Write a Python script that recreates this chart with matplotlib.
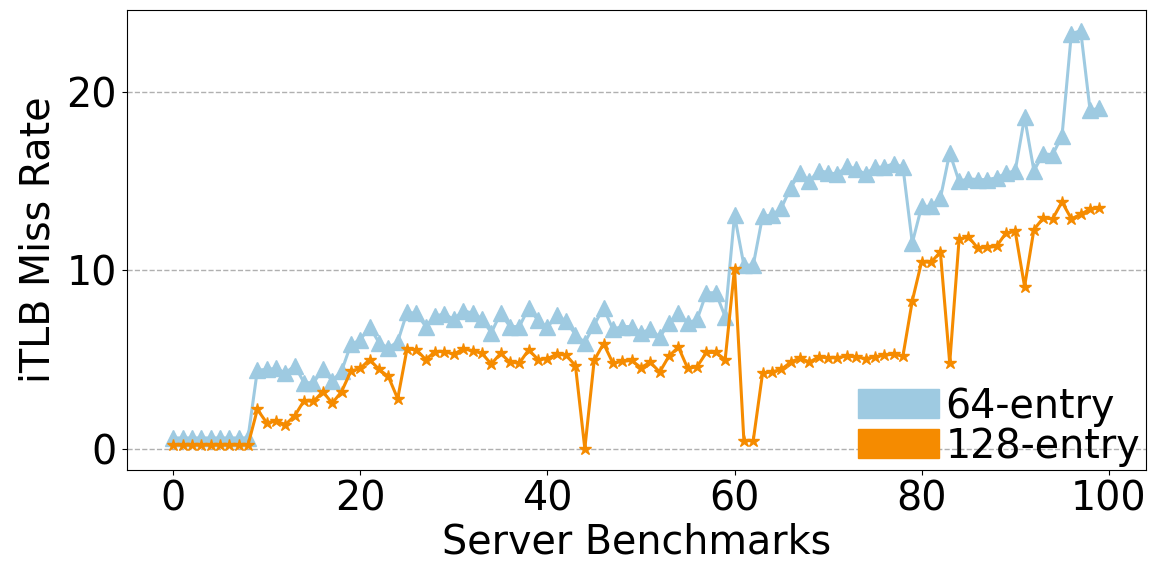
import matplotlib.pyplot as plt
from matplotlib.patches import Patch
import numpy as np


_BLUE = "#9ecae1"
_ORANGE = "#f58b00"

# iTLB miss rate per server benchmark
entry_64 = [
    0.6, 0.6, 0.6, 0.6, 0.6, 0.6, 0.6, 0.6, 0.6, 4.4,
    4.45, 4.5, 4.25, 4.65, 3.7, 3.7, 4.45, 3.8, 4.35, 5.85,
    6.1, 6.85, 5.95, 5.65, 6.0, 7.65, 7.6, 6.85, 7.45, 7.55,
    7.25, 7.75, 7.6, 7.3, 6.5, 7.6, 6.85, 6.85, 7.9, 7.2,
    6.8, 7.5, 7.15, 6.4, 5.95, 6.95, 7.9, 6.7, 6.85, 6.85,
    6.5, 6.7, 6.25, 7.05, 7.6, 7.05, 7.25, 8.75, 8.75, 7.4,
    13.1, 10.3, 10.3, 13.05, 13.1, 13.5, 14.65, 15.5, 15.0, 15.6,
    15.5, 15.4, 15.85, 15.7, 15.4, 15.8, 15.8, 16.0, 15.8, 11.55,
    13.6, 13.6, 14.05, 16.6, 15.0, 15.15, 15.1, 15.1, 15.2, 15.45,
    15.6, 18.6, 15.6, 16.55, 16.5, 17.55, 23.3, 23.45, 19.0, 19.1,
]
entry_128 = [
    0.2, 0.2, 0.2, 0.2, 0.2, 0.2, 0.2, 0.2, 0.2, 2.2,
    1.45, 1.55, 1.35, 1.85, 2.7, 2.65, 3.2, 2.55, 3.2, 4.35,
    4.5, 5.0, 4.45, 4.05, 2.8, 5.6, 5.55, 5.0, 5.45, 5.45,
    5.3, 5.6, 5.5, 5.35, 4.75, 5.35, 4.85, 4.8, 5.55, 5.0,
    5.05, 5.3, 5.25, 4.65, 0.0, 4.95, 5.9, 4.8, 4.9, 4.95,
    4.55, 4.85, 4.3, 5.2, 5.7, 4.5, 4.6, 5.4, 5.4, 5.0,
    10.1, 0.45, 0.45, 4.25, 4.3, 4.45, 4.85, 5.1, 4.85, 5.15,
    5.1, 5.1, 5.2, 5.15, 5.05, 5.15, 5.25, 5.3, 5.2, 8.3,
    10.5, 10.45, 11.05, 4.8, 11.75, 11.9, 11.25, 11.3, 11.35, 12.1,
    12.2, 9.1, 12.3, 12.95, 12.9, 13.85, 12.9, 13.15, 13.45, 13.5,
]
labels = ["64-entry", "128-entry"]


def main():
    plt.rcParams["font.size"] = 28.5
    figure = plt.figure(figsize=(11.53, 5.65), dpi=100)
    axes = figure.add_axes([0.110, 0.169, 0.8837, 0.8133])

    xs = np.arange(len(entry_64))
    axes.plot(xs, entry_64, color=_BLUE, marker="^",
              markersize=11, linewidth=2.2)
    axes.plot(xs, entry_128, color=_ORANGE, marker="*",
              markersize=9, linewidth=2.2)

    axes.yaxis.grid(True, linestyle="--", color="#b0b0b0", linewidth=1.0)
    axes.set_axisbelow(True)
    axes.set_yticks([0, 10, 20])
    axes.set_xticks([0, 20, 40, 60, 80, 100])
    axes.set_xlabel("Server Benchmarks", labelpad=2)
    axes.set_ylabel("iTLB Miss Rate", labelpad=6)

    handles = [Patch(facecolor=_BLUE, edgecolor=_BLUE),
               Patch(facecolor=_ORANGE, edgecolor=_ORANGE)]
    axes.legend(handles, labels, loc="lower right", frameon=False,
                handlelength=2.05, handleheight=0.75, handletextpad=0.15,
                labelspacing=0.0, borderaxespad=0.0,
                bbox_to_anchor=(1.01, -0.028))

    figure.savefig("out.png")


if __name__ == "__main__":
    main()
